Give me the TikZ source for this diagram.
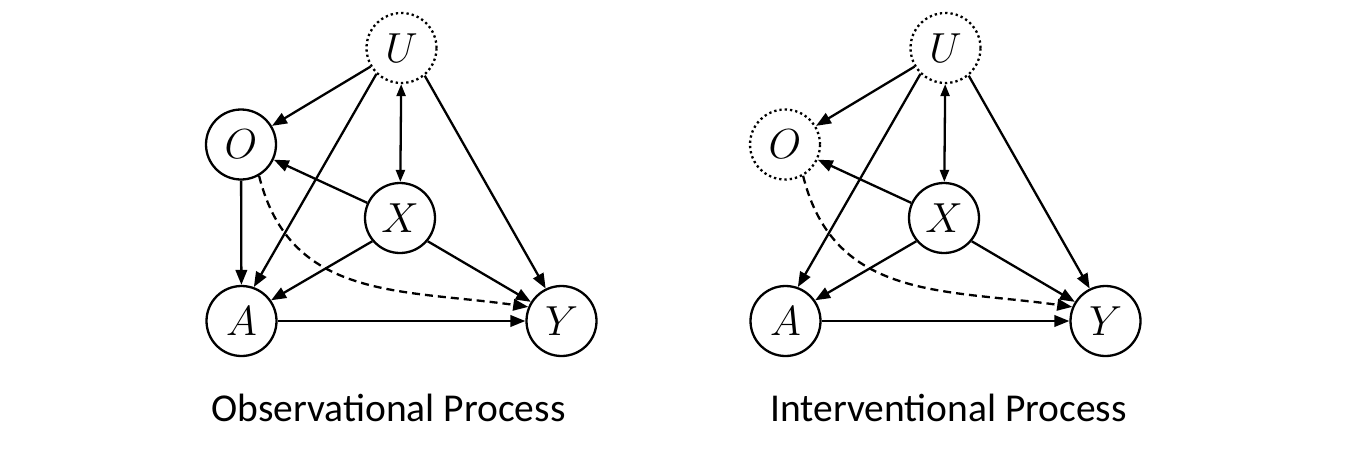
\RequirePackage{fix-cm}
\documentclass[tikz,border=0pt]{standalone}
\usepackage{fontspec}
\newfontfamily\capfont{Carlito}
\usetikzlibrary{arrows.meta}
\begin{document}
\begin{tikzpicture}[x=1pt,y=-1pt,
  var/.style={circle,draw,line width=2.3pt,minimum size=70pt,inner sep=0pt,font=\fontsize{42}{42}\selectfont},
  latent/.style={var,dash pattern=on 2.3pt off 3pt},
  edge/.style={line width=2.3pt,-{Triangle[length=15pt,width=11.5pt]}},
  biedge/.style={line width=2.3pt,{Triangle[length=12pt,width=9pt]}-{Triangle[length=12pt,width=9pt]}},
  dedge/.style={edge,dash pattern=on 8pt off 5pt},
  caption/.style={anchor=base,font=\capfont\fontsize{39.5}{44}\selectfont}]
\path[use as bounding box] (0,0) rectangle (1367,450);
% ---------- left: observational ----------
\node[latent] (UL) at (401.5,48) {$U$};
\node[var] (OL) at (241,144.5) {$O$};
\node[var] (XL) at (400,218) {$X$};
\node[var] (AL) at (241.5,321) {$A$};
\node[var] (YL) at (561.5,321) {$Y$};
\draw[edge] (UL) -- (OL);
\draw[edge] (UL.226) -- (AL.70);
\draw[edge] (UL.-50) -- (YL.116);
\draw[biedge] (UL) -- (XL);
\draw[edge] (OL) -- (AL);
\draw[edge] (XL) -- (OL);
\draw[edge] (XL.220) -- (AL.35);
\draw[edge] (XL.-40) -- (YL.148);
\draw[edge] (AL) -- (YL);
\draw[dedge] (OL.-60) to[out=-76,in=172,looseness=1.1] (YL.157);
\node[caption] (capL) at (388.5,421.5) {Observational Process};
% ---------- right: interventional ----------
\node[latent] (UR) at (945.5,48) {$U$};
\node[latent] (OR) at (785,144.5) {$O$};
\node[var] (XR) at (944,218) {$X$};
\node[var] (AR) at (785.5,321) {$A$};
\node[var] (YR) at (1105.5,321) {$Y$};
\draw[edge] (UR) -- (OR);
\draw[edge] (UR.226) -- (AR.70);
\draw[edge] (UR.-50) -- (YR.116);
\draw[biedge] (UR) -- (XR);
\draw[edge] (XR) -- (OR);
\draw[edge] (XR.220) -- (AR.35);
\draw[edge] (XR.-40) -- (YR.148);
\draw[edge] (AR) -- (YR);
\draw[dedge] (OR.-60) to[out=-76,in=172,looseness=1.1] (YR.157);
\node[caption] (capR) at (948.5,421.5) {Interventional Process};
\end{tikzpicture}
\end{document}
